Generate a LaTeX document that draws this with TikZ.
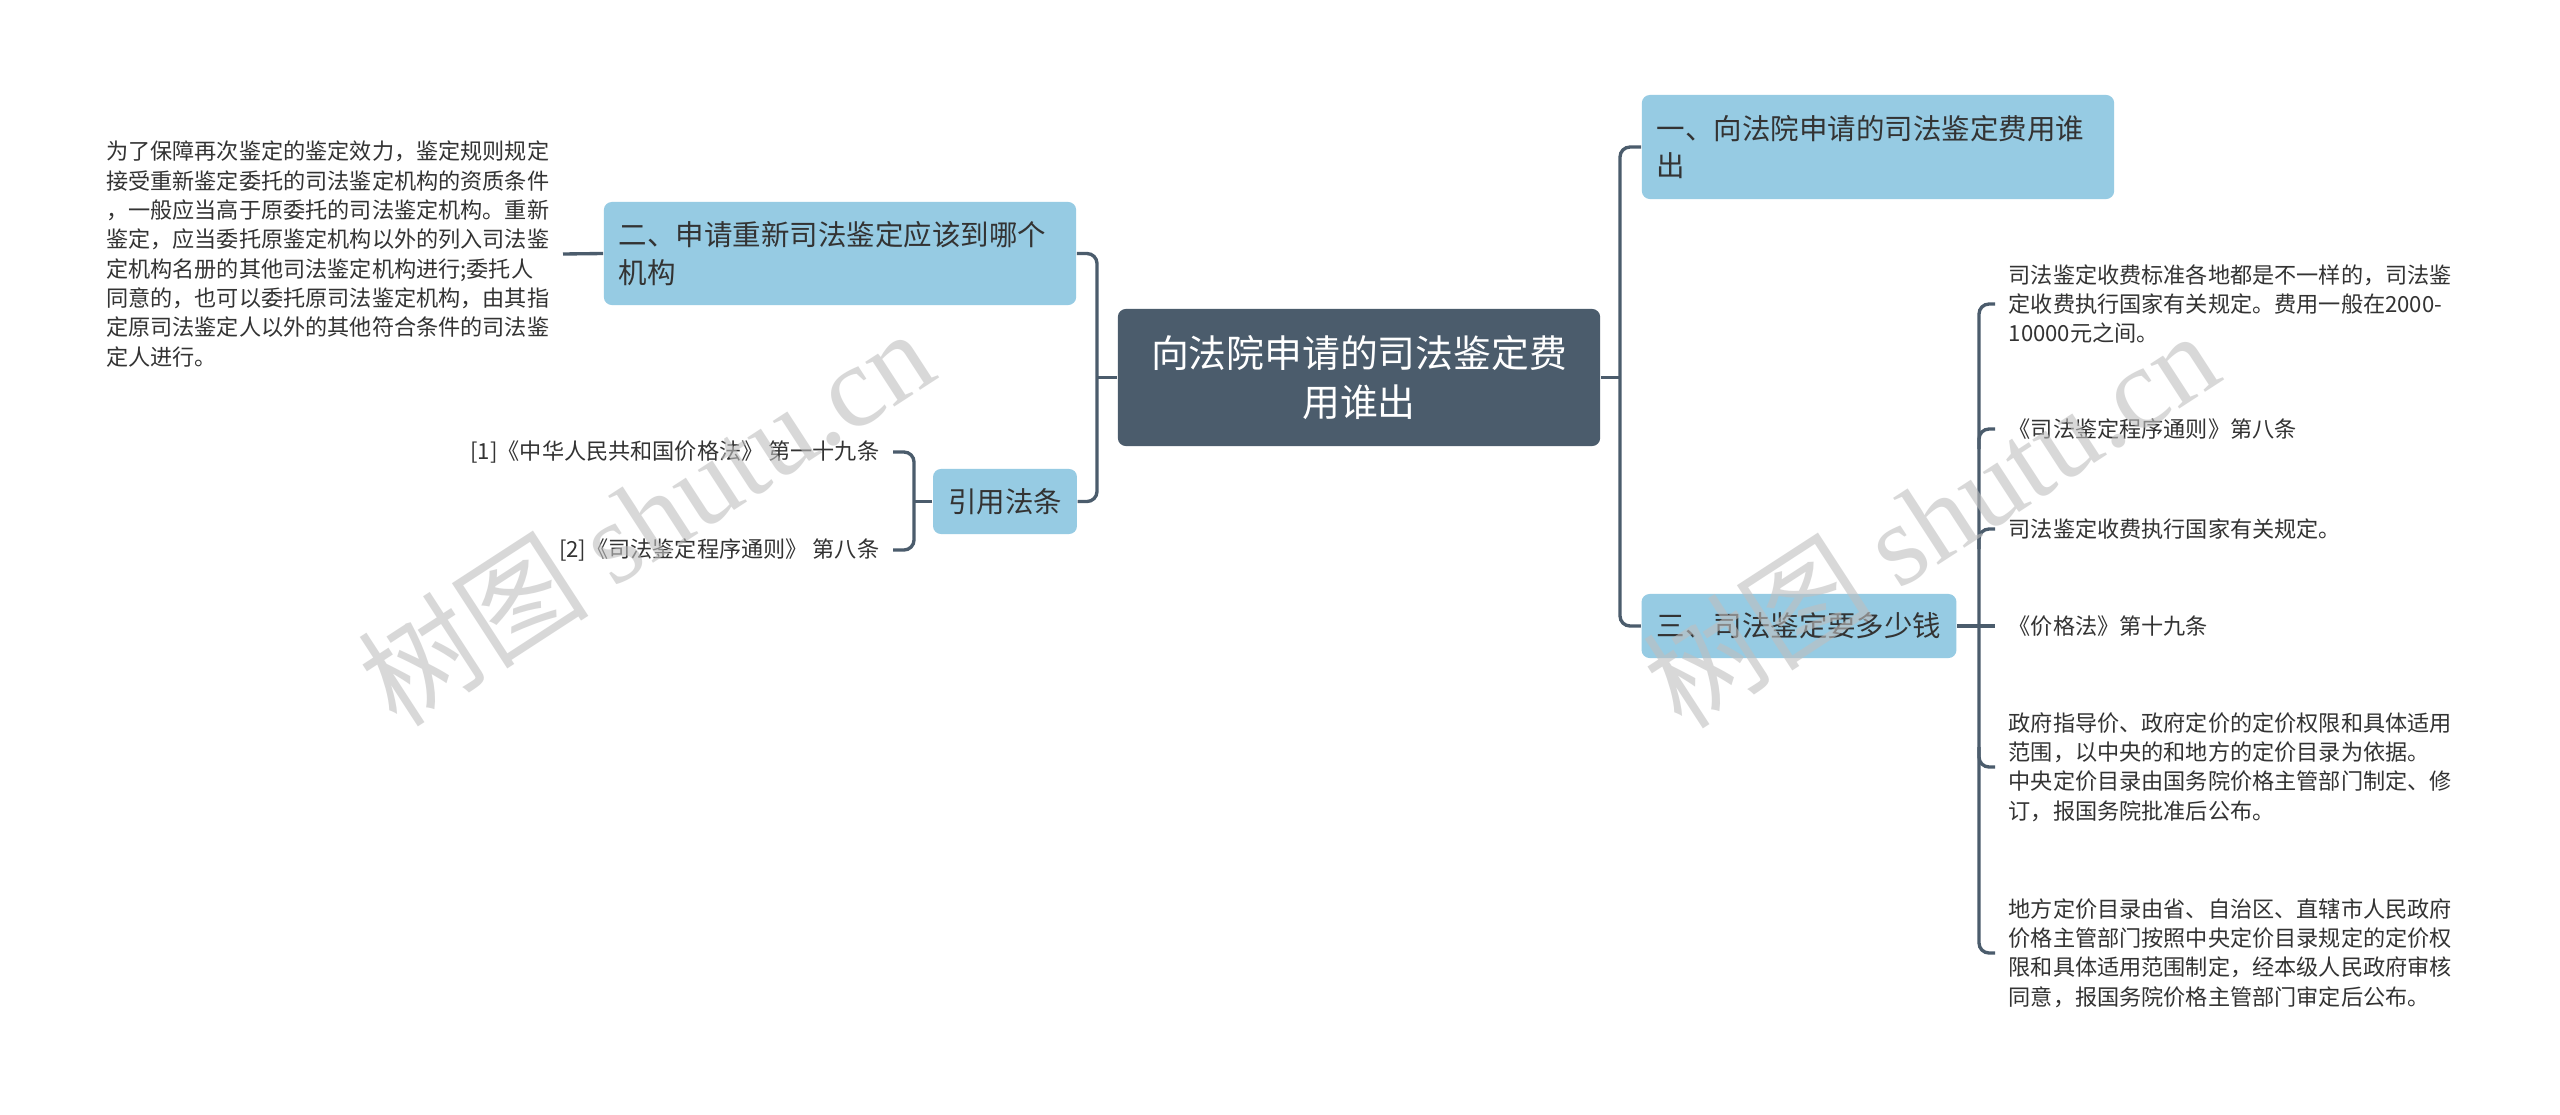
\documentclass[tikz,border=0pt]{standalone}
\usepackage{fontspec}
\setmainfont{Noto Sans CJK SC}
\newfontfamily\wmlatin{Liberation Serif}
\usetikzlibrary{positioning,calc}
\definecolor{slate}{HTML}{4B5C6C}
\definecolor{skyfill}{HTML}{96CBE3}
\definecolor{inkgray}{HTML}{333333}
\begin{document}
\begin{tikzpicture}[x=0.01cm,y=-0.01cm,
central/.style={fill=slate,text=white,rounded corners=0.08cm,align=center,minimum width=4.82cm,minimum height=1.37cm,inner sep=0pt,font=\fontsize{10.75pt}{14pt}\selectfont},
topic/.style={fill=skyfill,text=inkgray,rounded corners=0.08cm,inner xsep=0.15cm,inner ysep=0pt,font=\fontsize{8.1pt}{10.7pt}\selectfont},
note/.style={text=inkgray,align=left,inner xsep=0.13cm,inner ysep=0pt,font=\fontsize{6.3pt}{8.35pt}\selectfont},
link/.style={draw=slate,line width=0.95pt,rounded corners=0.1cm},
wm/.style={text=black!25,opacity=0.6,inner sep=0pt,font=\fontsize{33pt}{33pt}\selectfont}]
\path[fill=white](0,0)rectangle(2560,1115);
\useasboundingbox(0,0)rectangle(2560,1115);
\node[central](root) at (1359,377.5){向法院申请的司法鉴定费\\用谁出};
\node[topic,text width=4.42cm,align=left,minimum height=1.04cm](b1) at (1878,147){一、向法院申请的司法鉴定费用谁\\出};
\node[topic,text width=4.42cm,align=left,minimum height=1.03cm](b2) at (840,253.5){二、申请重新司法鉴定应该到哪个\\机构};
\node[topic,minimum width=3.10cm,minimum height=0.64cm](b3) at (1799,626){三、司法鉴定要多少钱};
\node[topic,minimum width=1.42cm,minimum height=0.65cm](cite) at (1005,501.5){引用法条};
\node[note,anchor=east](why) at (563,254){为了保障再次鉴定的鉴定效力，鉴定规则规定\\接受重新鉴定委托的司法鉴定机构的资质条件\\，一般应当高于原委托的司法鉴定机构。重新\\鉴定，应当委托原鉴定机构以外的列入司法鉴\\定机构名册的其他司法鉴定机构进行;委托人\\同意的，也可以委托原司法鉴定机构，由其指\\定原司法鉴定人以外的其他符合条件的司法鉴\\定人进行。};
\node[note,anchor=east](c1) at (893,452){[1]《中华人民共和国价格法》 第一十九条};
\node[note,anchor=east](c2) at (893,550){[2]《司法鉴定程序通则》 第八条};
\node[note,anchor=west](l1) at (1995,304){司法鉴定收费标准各地都是不一样的，司法鉴\\定收费执行国家有关规定。费用一般在2000-\\10000元之间。};
\node[note,anchor=west](l2) at (1995,429){《司法鉴定程序通则》第八条};
\node[note,anchor=west](l3) at (1995,529){司法鉴定收费执行国家有关规定。};
\node[note,anchor=west](l4) at (1995,626){《价格法》第十九条};
\node[note,anchor=west](l5) at (1995,767){政府指导价、政府定价的定价权限和具体适用\\范围，以中央的和地方的定价目录为依据。\\中央定价目录由国务院价格主管部门制定、修\\订，报国务院批准后公布。};
\node[note,anchor=west](l6) at (1995,953){地方定价目录由省、自治区、直辖市人民政府\\价格主管部门按照中央定价目录规定的定价权\\限和具体适用范围制定，经本级人民政府审核\\同意，报国务院价格主管部门审定后公布。};
\coordinate(jl) at (1097,377.5);\coordinate(jr) at (1620,377.5);
\coordinate(jc) at (914,501.5);\coordinate(jt) at (1979,626);
\draw[link](root.west)--(jl);\draw[link](root.east)--(jr);
\draw[link](b2.east)--(b2.east-|jl)--(cite.east-|jl)--(cite.east);
\draw[link](b1.west)--(b1.west-|jr)--(b3.west-|jr)--(b3.west);
\draw[link](why.east)--(b2.west);\draw[link](cite.west)--(jc);
\draw[link](c1.east)--(c1.east-|jc)--(c2.east-|jc)--(c2.east);
\draw[link](b3.east)--(l4.west);
\draw[link](l1.west)--(l1.west-|jt)--(l6.west-|jt)--(l6.west);
\foreach \n in {l2,l3}\draw[link]($(\n.west-|jt)+(0,20)$)--(\n.west-|jt)--(\n.west);
\draw[link]($(l5.west-|jt)+(0,-20)$)--(l5.west-|jt)--(l5.west);
\node[wm,rotate=33](wm1) at (645,516){树图 {\wmlatin shutu.cn}};
\node[wm,rotate=33](wm2) at (1930,518){树图 {\wmlatin shutu.cn}};
\end{tikzpicture}
\end{document}
